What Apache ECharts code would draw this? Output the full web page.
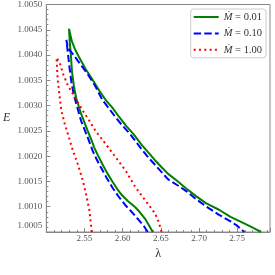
<!DOCTYPE html>
<html>
<head>
<meta charset="utf-8">
<script src="https://cdn.jsdelivr.net/npm/echarts@6/dist/echarts.min.js"></script>
<style>html,body{margin:0;padding:0;background:#fff}#c{width:275px;height:275px}</style>
</head>
<body>
<div id="c"></div>
<script>
// Series labels
const seriesNames = ['Ṁ = 0.01', 'Ṁ = 0.10', 'Ṁ = 1.00'];
// Tick values
const xTicks = [2.55, 2.60, 2.65, 2.70, 2.75];
const yTicks = [1.0005, 1.0010, 1.0015, 1.0020, 1.0025, 1.0030, 1.0035, 1.0040, 1.0045, 1.0050];

// Ṁ = 0.01 (inner branch bottom -> cusp -> outer branch bottom)
const lam001 = [2.6394, 2.6342, 2.6294, 2.6226, 2.6165, 2.6071, 2.5994, 2.5929, 2.5865, 2.5800, 2.5735, 2.5671, 2.5628, 2.5594, 2.5542, 2.5455, 2.5391, 2.5361, 2.5335, 2.5323, 2.5306, 2.5297,
  2.5335, 2.5374, 2.5435, 2.5516, 2.5606, 2.5697, 2.5778, 2.5865, 2.5951, 2.6045, 2.6145, 2.6252, 2.6338, 2.6423, 2.6510, 2.6596, 2.6716, 2.6832, 2.6961, 2.7090, 2.7262, 2.7413, 2.7564, 2.7671, 2.7748, 2.7813];
const E001 = [1.00050, 1.00064, 1.00076, 1.00089, 1.00099, 1.00111, 1.00122, 1.00135, 1.00150, 1.00166, 1.00184, 1.00203, 1.00217, 1.00231, 1.00250, 1.00284, 1.00315, 1.00339, 1.00368, 1.00398, 1.00427, 1.00452,
  1.00427, 1.00412, 1.00394, 1.00372, 1.00351, 1.00329, 1.00311, 1.00296, 1.00278, 1.00260, 1.00243, 1.00222, 1.00207, 1.00192, 1.00178, 1.00165, 1.00151, 1.00136, 1.00121, 1.00107, 1.00094, 1.00080, 1.00069, 1.00061, 1.00055, 1.00050];

// Ṁ = 0.10
const lam010 = [2.6329, 2.6277, 2.6209, 2.6123, 2.6036, 2.5942, 2.5865, 2.5787, 2.5714, 2.5658, 2.5606, 2.5542, 2.5455, 2.5391, 2.5355, 2.5326, 2.5303, 2.5284, 2.5262,
  2.5284, 2.5348, 2.5435, 2.5542, 2.5632, 2.5735, 2.5813, 2.5907, 2.5994, 2.6101, 2.6252, 2.6338, 2.6423, 2.6596, 2.6703, 2.6832, 2.6961, 2.7090, 2.7262, 2.7413, 2.7503, 2.7594];
const E010 = [1.00050, 1.00062, 1.00074, 1.00089, 1.00103, 1.00121, 1.00138, 1.00158, 1.00178, 1.00194, 1.00211, 1.00237, 1.00270, 1.00304, 1.00325, 1.00349, 1.00376, 1.00402, 1.00430,
  1.00414, 1.00402, 1.00384, 1.00362, 1.00341, 1.00311, 1.00296, 1.00277, 1.00261, 1.00243, 1.00213, 1.00197, 1.00183, 1.00154, 1.00144, 1.00131, 1.00115, 1.00101, 1.00084, 1.00071, 1.00062, 1.00050];

// Ṁ = 1.00
const lam100 = [2.5594, 2.5585, 2.5564, 2.5520, 2.5477, 2.5413, 2.5348, 2.5284, 2.5241, 2.5197, 2.5177, 2.5155, 2.5146, 2.5133,
  2.5177, 2.5219, 2.5284, 2.5348, 2.5413, 2.5477, 2.5564, 2.5649, 2.5778, 2.5907, 2.6036, 2.6165, 2.6294, 2.6423, 2.6471, 2.6510];
const E100 = [1.00050, 1.00064, 1.00093, 1.00125, 1.00152, 1.00184, 1.00211, 1.00243, 1.00264, 1.00290, 1.00315, 1.00343, 1.00359, 1.00395,
  1.00384, 1.00363, 1.00339, 1.00323, 1.00306, 1.00290, 1.00270, 1.00249, 1.00224, 1.00198, 1.00172, 1.00139, 1.00113, 1.00087, 1.00070, 1.00050];

const pairs = (xs, ys) => xs.map((x, i) => [x, ys[i]]);
const serif = "'Liberation Serif', 'DejaVu Serif', serif";
const axisGrey = '#888';
const labelGrey = '#555';

const chart = echarts.init(document.getElementById('c'), null, {renderer: 'canvas'});
chart.setOption({
  animation: false,
  grid: {left: 43, top: 3, right: 5, bottom: 43, show: true, borderColor: axisGrey, borderWidth: 1},
  legend: {
    right: 9, top: 9, orient: 'vertical',
    itemWidth: 25, itemHeight: 12, itemGap: 4.4,
    padding: [2, 4, 2, 2],
    backgroundColor: '#fff', borderColor: '#ccc', borderWidth: 1, borderRadius: 3,
    data: seriesNames,
    itemStyle: {opacity: 0, borderWidth: 0},
    formatter: n => n.replace('Ṁ', '{i|Ṁ}'),
    textStyle: {fontFamily: serif, fontSize: 10.5, color: '#333', lineHeight: 12,
      rich: {i: {fontFamily: serif, fontStyle: 'italic', fontSize: 10.5, color: '#333'}}}
  },
  xAxis: {
    type: 'value', min: 2.5, max: 2.793, interval: 0.05,
    name: 'λ', nameLocation: 'middle', nameGap: 10,
    nameTextStyle: {fontFamily: serif, fontSize: 12, color: '#333'},
    axisLine: {show: true, lineStyle: {color: axisGrey}},
    axisTick: {show: true, inside: true, length: 4, lineStyle: {color: axisGrey}},
    minorTick: {show: true, splitNumber: 5, length: 2, lineStyle: {color: axisGrey}},
    splitLine: {show: false},
    axisLabel: {
      margin: 2, fontFamily: serif, fontSize: 9, color: labelGrey,
      formatter: v => xTicks.some(t => Math.abs(t - v) < 1e-6) ? v.toFixed(2) : ''
    }
  },
  yAxis: {
    type: 'value', min: 1.0005, max: 1.0050, interval: 0.0005,
    name: 'E', nameLocation: 'middle', nameGap: 36, nameRotate: 0,
    nameTextStyle: {fontFamily: serif, fontSize: 12, fontStyle: 'italic', color: '#333'},
    axisLine: {show: true, lineStyle: {color: axisGrey}},
    axisTick: {show: true, inside: true, length: 4, lineStyle: {color: axisGrey}},
    minorTick: {show: true, splitNumber: 5, length: 2, lineStyle: {color: axisGrey}},
    splitLine: {show: false},
    axisLabel: {
      margin: 4, fontFamily: serif, fontSize: 9, color: labelGrey,
      formatter: v => {
        const t = yTicks.find(t => Math.abs(t - v) < 1e-7);
        if (t === undefined) return '';
        return t === yTicks[0] ? '{low|' + t.toFixed(4) + '}' : t.toFixed(4);
      },
      rich: {low: {fontFamily: serif, fontSize: 9, color: labelGrey, padding: [0, 0, 12, 0]}}
    }
  },
  series: [
    {name: seriesNames[0], type: 'line', data: pairs(lam001, E001), showSymbol: false, symbol: 'none',
      lineStyle: {color: '#008000', width: 2}, itemStyle: {color: '#008000'}},
    {name: seriesNames[1], type: 'line', data: pairs(lam010, E010), showSymbol: false, symbol: 'none',
      lineStyle: {color: '#0000ff', width: 2, type: [7.4, 3.2]}, itemStyle: {color: '#0000ff'}},
    {name: seriesNames[2], type: 'line', data: pairs(lam100, E100), showSymbol: false, symbol: 'none',
      lineStyle: {color: '#ff0000', width: 2, type: [2, 3.3]}, itemStyle: {color: '#ff0000'}}
  ]
});
</script>
</body>
</html>
